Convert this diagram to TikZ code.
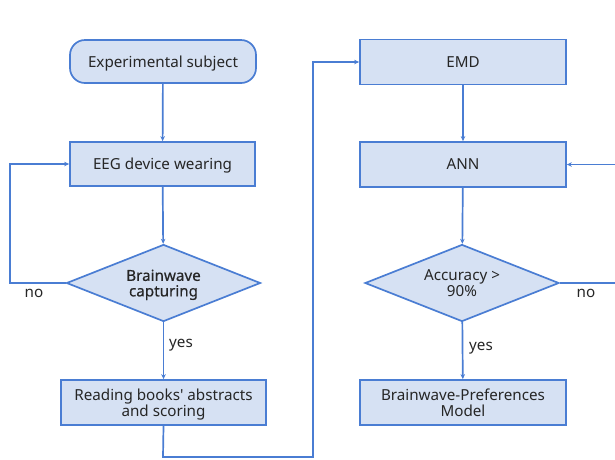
\documentclass[tikz,border=0pt]{standalone}
\usepackage{fontspec}
\setmainfont{Noto Sans}
\newfontfamily\semib[FakeBold=0.5]{Noto Sans}
\usetikzlibrary{shapes.geometric,arrows.meta}
\definecolor{bord}{HTML}{4A7DD3}
\definecolor{boxfill}{HTML}{D6E1F3}
\definecolor{txt}{HTML}{262626}
\tikzset{
  x=1pt,y=-1pt,
  base/.style={draw=bord,fill=boxfill,line width=1.7pt,text=txt,inner sep=0pt,align=center,text depth=0pt,font=\fontsize{15.2}{15.5}\selectfont},
  procbox/.style={base,rectangle,minimum width=206pt,minimum height=45pt},
  startbox/.style={base,rectangle,rounded corners=15pt,minimum width=186pt,minimum height=43pt},
  decbox/.style={base,diamond,shape aspect=2.52,minimum width=194pt,minimum height=77pt},
  arr/.style={draw=bord,line width=1.7pt,-{Stealth[length=5pt,width=4.5pt]}},
  lab/.style={text=txt,font=\fontsize{15.2}{15.5}\selectfont,inner sep=0pt}
}
\begin{document}
\begin{tikzpicture}
\useasboundingbox (0,0) rectangle (615,459);
\node[startbox] (subj) at (163,61.5) {Experimental subject};
\node[procbox,minimum width=185pt,minimum height=44pt] (eeg) at (162.5,164) {EEG device wearing};
\node[decbox] (cap) at (163.5,283) {\semib Brainwave\\\semib capturing};
\node[procbox,minimum width=205pt] (read) at (163.5,402.5) {Reading books\textquotesingle{} abstracts\\and scoring};
\node[procbox] (emd) at (463,62) {EMD};
\node[procbox] (ann) at (463,164.5) {ANN};
\node[decbox] (acc) at (462,283) {Accuracy >\\90\%};
\node[procbox] (model) at (463,402.5) {Brainwave-Preferences\\Model};
\coordinate (lx) at (10,0);
\coordinate (rx) at (619,0);
\coordinate (b1) at (163,457);
\coordinate (b2) at (313,457);
\draw[arr] (subj) -- (eeg);
\draw[arr] (eeg) -- (cap);
\draw[arr] (cap.west) -- (cap.west -| lx) |- (eeg.west);
\draw[arr] (cap) -- (read);
\draw[arr] (read.south) -- (b1) -- (b2) |- (emd.west);
\draw[arr] (emd) -- (ann);
\draw[arr] (ann) -- (acc);
\draw[arr] (acc) -- (model);
\draw[arr] (acc.east) -- (acc.east -| rx) |- (ann.east);
\node[lab] (no1) at (34,293) {no};
\node[lab] (yes1) at (181,345) {yes};
\node[lab] (yes2) at (481,348) {yes};
\node[lab] (no2) at (586,293) {no};
\end{tikzpicture}
\end{document}
